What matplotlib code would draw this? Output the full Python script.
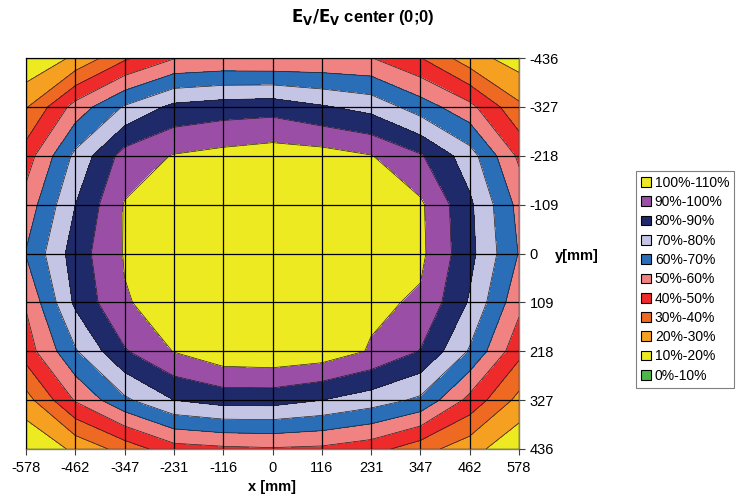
import numpy as np
import matplotlib.pyplot as plt
from matplotlib.patches import Patch

plt.rcParams['font.family'] = ['Liberation Sans', 'DejaVu Sans']

# measurement grid (mm)
x_mm = [-578, -462, -347, -231, -116, 0, 116, 231, 347, 462, 578]
y_mm = [-436, -327, -218, -109, 0, 109, 218, 327, 436]

# Ev / Ev(center) in %, one row per y position (top to bottom)
row_m436 = [11, 21.8, 38.2, 49.4, 51, 50.4, 51, 50.3, 40.3, 24.2, 15]
row_m327 = [29, 54, 71, 82.5, 85, 86, 81, 76.5, 65, 53, 32]
row_m218 = [45, 72.5, 94, 100.5, 103, 105, 104, 100.3, 91, 74.5, 48]
row_m109 = [54, 80, 100.5, 103, 103, 104, 104, 103, 101.5, 82, 57]
row_0 = [60.5, 85, 100.5, 102, 101, 100, 101, 102, 102, 83, 59.5]
row_109 = [51, 82, 99.3, 103, 104, 106, 105, 102, 98.5, 79, 53]
row_218 = [45, 69, 89, 100.3, 107, 108, 106, 99, 89.5, 69, 43]
row_327 = [26, 51, 68, 80, 84, 84, 80, 75, 68, 47, 27]
row_436 = [11, 22, 34, 46, 48, 49, 48, 44, 34, 24, 12]

levels = [0, 10, 20, 30, 40, 50, 60, 70, 80, 90, 99.9, 110]  # 100 % must fall in the top band
band_labels = ['0%-10%', '10%-20%', '20%-30%', '30%-40%', '40%-50%', '50%-60%',
               '60%-70%', '70%-80%', '80%-90%', '90%-100%', '100%-110%']
band_colors = ['#4cb848', '#eeea22', '#f5a020', '#ee6a22', '#ee2a2a', '#f08282',
               '#2a6eb8', '#c4c4e4', '#1f2a6b', '#9b4ea6', '#eeea22']

Z = np.array([row_m436, row_m327, row_m218, row_m109, row_0,
              row_109, row_218, row_327, row_436])

fig = plt.figure(figsize=(7.36, 5), dpi=100)
ax = fig.add_axes([26 / 736, 51 / 500, 493 / 736, 391 / 500])

ax.contourf(x_mm, y_mm, Z, levels=levels, colors=band_colors)
ax.contour(x_mm, y_mm, Z, levels=levels, colors='#202020', linewidths=0.5)

ax.set_xlim(x_mm[0], x_mm[-1])
ax.set_ylim(y_mm[-1], y_mm[0])
ax.set_xticks(x_mm)
ax.set_yticks(y_mm)
ax.set_xticklabels([str(v) for v in x_mm])
ax.set_yticklabels([str(v) for v in y_mm])
ax.yaxis.tick_right()
ax.tick_params(labelsize=10.5, length=4, width=0.8, colors='#404040', labelcolor='black')
ax.tick_params(axis='x', pad=5)
ax.grid(True, color='black', linewidth=0.9)
ax.set_axisbelow(False)
for s in ax.spines.values():
    s.set_color('#808080')
    s.set_linewidth(1)

ax.set_xlabel('x [mm]', fontsize=10.5, fontweight='bold', labelpad=3)
fig.text(555 / 736, 1 - 256 / 500, 'y[mm]', fontsize=10.5, fontweight='bold', va='center')

fig.text(0.493, 1 - 17 / 500, r'$\mathbf{E_V/E_V}$ center (0;0)', fontsize=12,
         fontweight='bold', ha='center', va='center')

handles = [Patch(facecolor=c, edgecolor='black', linewidth=0.8, label=l)
           for c, l in zip(band_colors[::-1], band_labels[::-1])]
leg = fig.legend(handles=handles, loc='upper left', bbox_to_anchor=(636 / 736, 1 - 171 / 500),
                 fontsize=10, frameon=True, fancybox=False, handlelength=0.7,
                 handleheight=0.7, handletextpad=0.3, labelspacing=0.38, borderpad=0.35,
                 borderaxespad=0)
leg.get_frame().set_edgecolor('#606060')
leg.get_frame().set_linewidth(0.8)

fig.savefig('out.png', dpi=100)
